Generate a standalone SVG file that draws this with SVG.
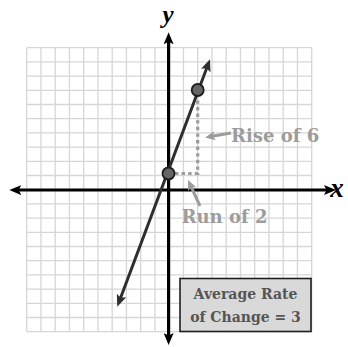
<svg xmlns="http://www.w3.org/2000/svg" width="348" height="347" viewBox="0 0 348 347">
<style>
.grid{stroke:#d6d6d6;stroke-width:1.3;fill:none}
.axis{stroke:#000;stroke-width:3.2;fill:none}
.graph{stroke:#2e2e2e;stroke-width:3;fill:none}
.dot{stroke:#9c9c9c;stroke-width:3.2;stroke-dasharray:3.4 3.2;fill:none}
.garrow{stroke:#9c9c9c;stroke-width:3;fill:none}
.pt{fill:#666;stroke:#1e1e1e;stroke-width:1.8}
.lbl{font-family:"DejaVu Serif",serif;font-weight:bold;font-size:18px;fill:#9c9c9c}
.box{fill:#d9d9d9;stroke:#1e1e1e;stroke-width:1.6}
.boxt{font-family:"DejaVu Serif",serif;font-weight:bold;font-size:14px;fill:#555;text-anchor:middle}
.var{font-family:"Liberation Serif",serif;font-style:italic;font-weight:bold;fill:#000}
</style>
<defs>
<marker id="ah" markerUnits="userSpaceOnUse" markerWidth="12" markerHeight="10" refX="7" refY="5" orient="auto-start-reverse" viewBox="0 0 12 10">
<path d="M0,0 L12,5 L0,10 L2.5,5 Z" fill="#000"/>
</marker>
<marker id="ahd" markerUnits="userSpaceOnUse" markerWidth="12" markerHeight="10" refX="7" refY="5" orient="auto-start-reverse" viewBox="0 0 12 10">
<path d="M0,0 L12,5 L0,10 L2.5,5 Z" fill="#2e2e2e"/>
</marker>
<marker id="ahg" markerUnits="userSpaceOnUse" markerWidth="10" markerHeight="9" refX="6" refY="4.5" orient="auto" viewBox="0 0 10 9">
<path d="M0,0 L10,4.5 L0,9 L2,4.5 Z" fill="#9c9c9c"/>
</marker>
</defs>
<g id="grid">
<path class="grid" d="M26.7,47.7V331.7M40.95,47.7V331.7M55.2,47.7V331.7M69.45,47.7V331.7M83.7,47.7V331.7M97.95,47.7V331.7M112.2,47.7V331.7M126.45,47.7V331.7M140.7,47.7V331.7M154.95,47.7V331.7M169.2,47.7V331.7M183.45,47.7V331.7M197.7,47.7V331.7M211.95,47.7V331.7M226.2,47.7V331.7M240.45,47.7V331.7M254.7,47.7V331.7M268.95,47.7V331.7M283.2,47.7V331.7M297.45,47.7V331.7M311.7,47.7V331.7M26.7,47.7H311.7M26.7,61.9H311.7M26.7,76.1H311.7M26.7,90.3H311.7M26.7,104.5H311.7M26.7,118.7H311.7M26.7,132.9H311.7M26.7,147.1H311.7M26.7,161.3H311.7M26.7,175.5H311.7M26.7,189.7H311.7M26.7,203.9H311.7M26.7,218.1H311.7M26.7,232.3H311.7M26.7,246.5H311.7M26.7,260.7H311.7M26.7,274.9H311.7M26.7,289.1H311.7M26.7,303.3H311.7M26.7,317.5H311.7M26.7,331.7H311.7"/>
</g>
<g id="connectors">
<path class="dot" d="M175,173.5H197.7V97"/>
<line class="axis" x1="14.3" y1="190" x2="331" y2="190" marker-start="url(#ah)" marker-end="url(#ah)"/>
<line class="axis" x1="168.6" y1="37.3" x2="168.6" y2="340" marker-start="url(#ah)" marker-end="url(#ah)"/>
<line class="graph" x1="119.05" y1="302" x2="208.25" y2="64" marker-start="url(#ahd)" marker-end="url(#ahd)"/>
<line class="garrow" x1="231" y1="133" x2="209" y2="136.8" marker-end="url(#ahg)"/>
<line class="garrow" x1="200" y1="206" x2="189.7" y2="183.6" marker-end="url(#ahg)"/>
</g>
<g id="point-a"><circle class="pt" cx="168.5" cy="173.5" r="6"/></g>
<g id="point-b"><circle class="pt" cx="197.7" cy="90" r="6"/></g>
<g id="label-y"><text class="var" x="168" y="23" font-size="25" text-anchor="middle">y</text></g>
<g id="label-x"><text class="var" x="337" y="197" font-size="27" text-anchor="middle">x</text></g>
<g id="label-rise"><text class="lbl" x="231" y="141.5">Rise of 6</text></g>
<g id="label-run"><text class="lbl" x="181.5" y="223">Run of 2</text></g>
<g id="rate-box">
<rect class="box" x="180" y="278.5" width="131" height="53"/>
<text class="boxt" x="245.5" y="298.5">Average Rate</text>
<text class="boxt" x="245.5" y="321.5">of Change = 3</text>
</g>
</svg>
